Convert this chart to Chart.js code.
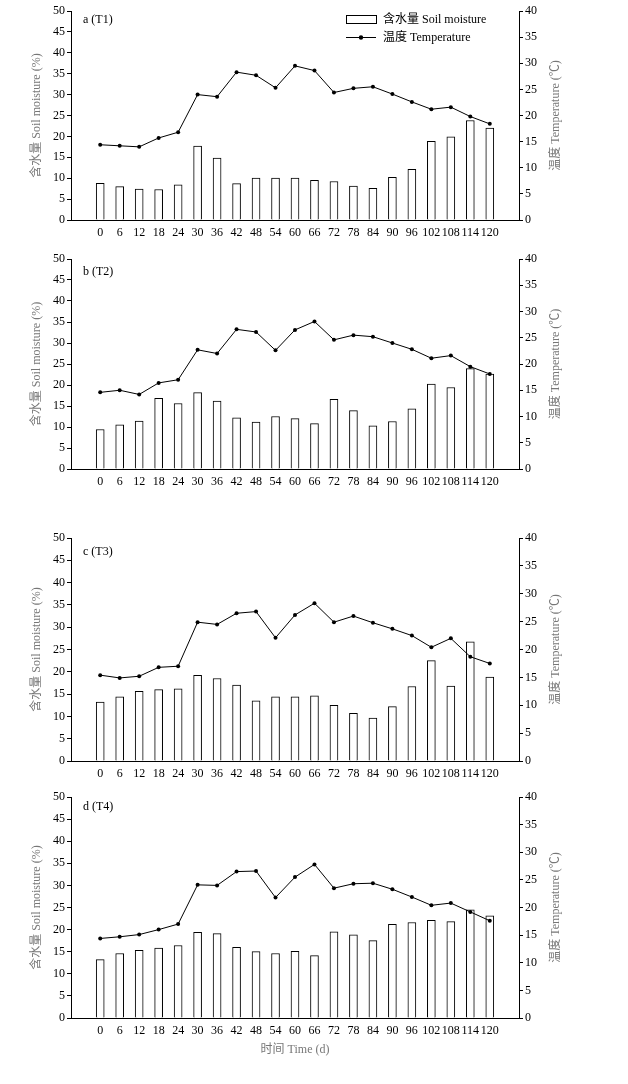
<!DOCTYPE html>
<html><head><meta charset="utf-8">
<script src="https://cdn.jsdelivr.net/npm/chart.js@4/dist/chart.umd.min.js"></script>
<style>
html,body{margin:0;padding:0;background:#fff;width:628px;height:1084px;overflow:hidden;}
canvas{position:absolute;left:0;}
</style></head><body>
<canvas id="c0"></canvas>
<canvas id="c1"></canvas>
<canvas id="c2"></canvas>
<canvas id="c3"></canvas>
<script>
// ---- data ----
const days = [0,6,12,18,24,30,36,42,48,54,60,66,72,78,84,90,96,102,108,114,120];
const moistureT1 = [8.8,8.0,7.4,7.3,8.4,17.7,14.8,8.7,10.0,10.0,10.0,9.5,9.2,8.1,7.6,10.2,12.1,18.8,19.9,23.8,22.0];
const temperatureT1 = [14.4,14.2,14.0,15.7,16.8,24.0,23.6,28.3,27.7,25.3,29.5,28.6,24.4,25.2,25.5,24.1,22.6,21.2,21.6,19.8,18.4];
const moistureT2 = [9.4,10.5,11.4,16.8,15.6,18.2,16.2,12.2,11.2,12.5,12.0,10.8,16.6,13.9,10.3,11.3,14.3,20.2,19.4,23.9,22.6];
const temperatureT2 = [14.6,15.0,14.2,16.4,17.0,22.7,22.0,26.6,26.1,22.6,26.5,28.1,24.6,25.5,25.2,24.0,22.8,21.1,21.6,19.5,18.1];
const moistureT3 = [13.2,14.4,15.6,16.0,16.2,19.2,18.5,17.0,13.5,14.4,14.4,14.6,12.5,10.7,9.6,12.2,16.7,22.5,16.8,26.7,18.8];
const temperatureT3 = [15.4,14.9,15.2,16.8,17.0,24.9,24.5,26.5,26.8,22.1,26.2,28.3,24.9,26.0,24.8,23.7,22.5,20.4,22.0,18.7,17.5];
const moistureT4 = [13.2,14.6,15.3,15.8,16.4,19.4,19.1,16.0,15.0,14.6,15.1,14.1,19.5,18.8,17.5,21.2,21.6,22.1,21.8,24.5,23.1];
const temperatureT4 = [14.4,14.7,15.1,16.0,17.0,24.1,24.0,26.5,26.6,21.8,25.5,27.8,23.5,24.3,24.4,23.3,21.9,20.4,20.8,19.2,17.6];
const panelLabels = ['a (T1)','b (T2)','c (T3)','d (T4)'];
const moistureLabel = '含水量 Soil moisture (%)';
const temperatureLabel = '温度 Temperature (℃)';
const timeLabel = '时间 Time (d)';
const barLegend = '含水量 Soil moisture';
const lineLegend = '温度 Temperature';
const moistureMax = 50, temperatureMax = 40, tickStep = 5;

// ---- layout ----
const FONT = '"Liberation Serif", "Noto Sans CJK SC", serif';
const GRAY = '#777';
const W = 628, LEFT_W = 71, RIGHT_W = 109;
const panels = [
  {id:'c0', top:0,   h:248, plotTop:11,  plotBottom:220,  labelDy:9,  m:moistureT1, t:temperatureT1, legend:true},
  {id:'c1', top:248, h:252, plotTop:259, plotBottom:469,  labelDy:13, m:moistureT2, t:temperatureT2},
  {id:'c2', top:500, h:285, plotTop:538, plotBottom:761,  labelDy:14, m:moistureT3, t:temperatureT3},
  {id:'c3', top:785, h:299, plotTop:797, plotBottom:1018, labelDy:10, m:moistureT4, t:temperatureT4, xTitle:true}
];

const overlay = {
  id: 'overlay',
  afterDraw(chart, args, o) {
    const {ctx, chartArea: ca} = chart;
    ctx.save();
    ctx.font = '12px ' + FONT;
    ctx.textBaseline = 'middle';
    ctx.textAlign = 'left';
    ctx.fillStyle = '#000';
    ctx.fillText(o.label, ca.left + 12, ca.top + o.labelDy);
    ctx.save();
    ctx.translate(556, (ca.top + ca.bottom) / 2);
    ctx.rotate(-Math.PI / 2);
    ctx.textAlign = 'center';
    ctx.fillStyle = GRAY;
    ctx.fillText(temperatureLabel, 0, 0);
    ctx.restore();
    if (o.legend) {
      ctx.strokeStyle = '#000';
      ctx.lineWidth = 1;
      ctx.fillStyle = '#fff';
      ctx.fillRect(346.5, 15.5, 30, 8);
      ctx.strokeRect(346.5, 15.5, 30, 8);
      ctx.beginPath();
      ctx.moveTo(346, 37.5); ctx.lineTo(376, 37.5); ctx.stroke();
      ctx.fillStyle = '#000';
      ctx.beginPath(); ctx.arc(361, 37.5, 2.2, 0, Math.PI * 2); ctx.fill();
      ctx.fillText(barLegend, 383, 19.5);
      ctx.fillText(lineLegend, 383, 37.5);
    }
    ctx.restore();
  }
};

panels.forEach((p, i) => {
  const cv = document.getElementById(p.id);
  cv.width = W; cv.height = p.h;
  cv.style.top = p.top + 'px';
  cv.style.width = W + 'px'; cv.style.height = p.h + 'px';
  const xH = p.h - (p.plotBottom - p.top);
  new Chart(cv, {
    type: 'bar',
    data: {
      datasets: [
        {type:'line', label: lineLegend, yAxisID:'y2', order:0,
         data: days.map((d, k) => ({x:d, y:p.t[k]})),
         borderColor:'#000', borderWidth:1, pointRadius:2, pointBackgroundColor:'#000',
         pointBorderWidth:0, tension:0, fill:false},
        {type:'bar', label: barLegend, yAxisID:'y', order:1,
         data: days.map((d, k) => ({x:d, y:p.m[k]})),
         backgroundColor:'#fff', borderColor:'#000', borderWidth:1, barThickness:8, grouped:false}
      ]
    },
    options: {
      responsive:false, animation:false, devicePixelRatio:1,
      layout:{padding:{top:p.plotTop - p.top, left:0, right:0, bottom:0}},
      plugins:{legend:{display:false}, tooltip:{enabled:false},
        overlay:{label:panelLabels[i], labelDy:p.labelDy, legend:!!p.legend}},
      scales:{
        x:{type:'linear', min:-9, max:129, offset:false,
           afterBuildTicks: s => { s.ticks = days.map(v => ({value:v})); },
           afterFit: s => { s.height = xH; },
           ticks:{autoSkip:false, maxRotation:0, minRotation:0, padding:6, color:'#000',
                  font:{family:FONT, size:12}, callback: v => String(v)},
           grid:{display:false, drawTicks:false},
           border:{display:true, color:'#000', width:1},
           title:{display:!!p.xTitle, text:timeLabel, color:GRAY, font:{family:FONT, size:12},
                  padding:{top:0, bottom:27}}
        },
        y:{position:'left', min:0, max:moistureMax,
           afterFit: s => { s.width = LEFT_W; },
           ticks:{stepSize:tickStep, padding:2, color:'#000', font:{family:FONT, size:12}},
           grid:{display:true, drawOnChartArea:false, drawTicks:true, tickLength:4, color:'#000'},
           border:{display:true, color:'#000', width:1},
           title:{display:true, text:moistureLabel, color:GRAY, font:{family:FONT, size:12},
                  padding:{top:30, bottom:0}}
        },
        y2:{position:'right', min:0, max:temperatureMax,
           afterFit: s => { s.width = RIGHT_W; },
           ticks:{stepSize:tickStep, padding:2, color:'#000', font:{family:FONT, size:12}},
           grid:{display:true, drawOnChartArea:false, drawTicks:true, tickLength:4, color:'#000'},
           border:{display:true, color:'#000', width:1}
        }
      }
    },
    plugins:[overlay]
  });
});
</script>
</body></html>
